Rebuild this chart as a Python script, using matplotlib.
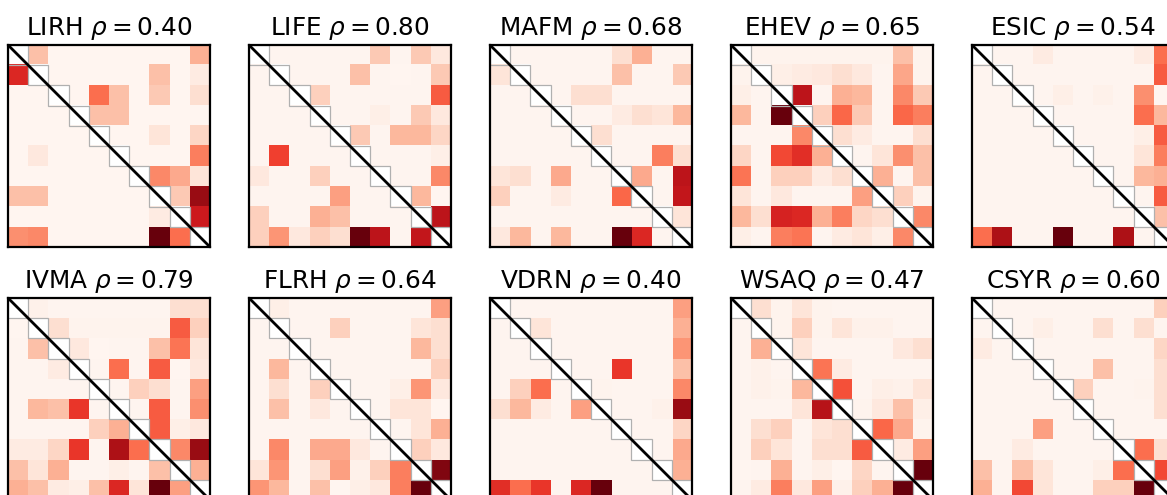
import numpy as np
from matplotlib import pyplot as plt
from matplotlib.patches import Rectangle

n = np.nan

# panel names and correlation values
names = ['LIRH', 'LIFE', 'MAFM', 'EHEV', 'ESIC',
         'IVMA', 'FLRH', 'VDRN', 'WSAQ', 'CSYR']
rhos = [0.40, 0.80, 0.68, 0.65, 0.54, 0.79, 0.64, 0.40, 0.47, 0.60]

# matrices (row = y, col = x), diagonal left empty
lirh = [
    [n, .25, .02, .02, .02, .02, .02, .02, .02, .30],
    [.70, n, .02, .02, .02, .02, .02, .25, .02, .08],
    [.02, .02, n, .02, .50, .25, .02, .22, .02, .15],
    [.02, .02, .02, n, .25, .25, .02, .02, .02, .02],
    [.02, .02, .02, .02, n, .02, .02, .12, .02, .18],
    [.02, .10, .02, .02, .02, n, .02, .02, .02, .45],
    [.02, .02, .02, .02, .02, .02, n, .42, .32, .12],
    [.25, .25, .02, .02, .02, .02, .02, n, .22, .90],
    [.02, .02, .02, .02, .02, .02, .02, .08, n, .75],
    [.40, .42, .02, .02, .02, .02, .02, 1.0, .50, n],
]
life = [
    [n, .03, .03, .03, .03, .03, .22, .03, .22, .10],
    [.03, n, .03, .03, .03, .25, .03, .02, .03, .22],
    [.03, .03, n, .20, .03, .03, .03, .03, .03, .55],
    [.03, .03, .03, n, .03, .03, .06, .03, .22, .10],
    [.03, .03, .03, .03, n, .22, .03, .28, .28, .18],
    [.03, .62, .03, .03, .03, n, .03, .03, .03, .06],
    [.10, .03, .03, .20, .03, .03, n, .03, .03, .42],
    [.03, .03, .03, .03, .35, .03, .03, n, .28, .02],
    [.20, .03, .03, .30, .25, .03, .03, .03, n, .80],
    [.20, .38, .10, .20, .15, 1.0, .80, .03, .78, n],
]
mafm = [
    [n, .03, .03, .03, .03, .03, .15, .30, .03, .03],
    [.12, n, .03, .03, .03, .03, .25, .03, .03, .22],
    [.03, .03, n, .03, .15, .15, .03, .03, .03, .03],
    [.03, .03, .03, n, .03, .03, .08, .15, .12, .28],
    [.03, .03, .03, .03, n, .15, .03, .03, .03, .03],
    [.03, .03, .03, .03, .03, n, .03, .03, .45, .15],
    [.12, .15, .03, .32, .03, .03, n, .32, .03, .80],
    [.20, .03, .03, .08, .03, .03, .52, n, .03, .78],
    [.03, .03, .03, .03, .03, .03, .03, .03, n, .12],
    [.10, .28, .03, .28, .03, .03, 1.0, .70, .03, n],
]
ehev = [
    [n, .04, .04, .04, .04, .04, .04, .04, .25, .04],
    [.04, n, .06, .08, .10, .15, .10, .03, .33, .04],
    [.06, .03, n, .80, .03, .30, .28, .03, .42, .22],
    [.28, .03, 1.0, n, .20, .52, .22, .03, .52, .45],
    [.03, .03, .03, .42, n, .15, .08, .03, .03, .15],
    [.18, .03, .60, .68, .30, n, .03, .12, .40, .25],
    [.48, .03, .20, .20, .08, .15, n, .30, .03, .25],
    [.12, .03, .10, .03, .03, .03, .35, n, .20, .04],
    [.28, .15, .72, .70, .30, .45, .18, .15, n, .42],
    [.06, .03, .45, .48, .03, .08, .12, .06, .42, n],
]
esic = [
    [n, .03, .03, .08, .03, .03, .03, .03, .08, .50],
    [.03, n, .03, .03, .03, .03, .03, .03, .03, .55],
    [.03, .03, n, .03, .06, .03, .05, .03, .40, .02],
    [.03, .03, .03, n, .03, .03, .03, .03, .50, .28],
    [.03, .03, .03, .03, n, .03, .03, .03, .06, .55],
    [.03, .03, .03, .03, .03, n, .03, .03, .12, .45],
    [.03, .03, .03, .03, .03, .03, n, .03, .28, .30],
    [.03, .03, .03, .03, .03, .03, .03, n, .03, .55],
    [.03, .03, .03, .03, .03, .03, .03, .03, n, .25],
    [.50, .85, .03, .03, 1.0, .03, .03, .85, .03, n],
]
ivma = [
    [n, .05, .03, .03, .03, .03, .03, .03, .15, .15],
    [.02, n, .15, .04, .04, .04, .04, .04, .55, .20],
    [.03, .25, n, .10, .02, .03, .03, .25, .48, .12],
    [.03, .03, .08, n, .03, .50, .03, .55, .02, .10],
    [.03, .03, .03, .03, n, .03, .20, .15, .03, .35],
    [.03, .28, .25, .65, .03, n, .03, .55, .03, .40],
    [.03, .03, .03, .03, .20, .30, n, .55, .06, .10],
    [.08, .08, .18, .65, .03, .85, .50, n, .42, .90],
    [.25, .12, .30, .03, .03, .06, .03, .25, n, .30],
    [.30, .25, .08, .06, .25, .70, .12, 1.0, .35, n],
]
flrh = [
    [n, .06, .03, .03, .03, .03, .03, .03, .03, .35],
    [.03, n, .03, .03, .20, .03, .03, .03, .12, .15],
    [.03, .03, n, .03, .03, .03, .03, .03, .28, .15],
    [.03, .28, .03, n, .03, .03, .03, .03, .03, .20],
    [.03, .15, .03, .20, n, .03, .03, .06, .38, .10],
    [.03, .25, .03, .10, .03, n, .03, .12, .12, .02],
    [.03, .03, .03, .03, .03, .03, n, .03, .12, .30],
    [.03, .42, .03, .32, .32, .10, .03, n, .20, .10],
    [.12, .38, .03, .15, .35, .05, .20, .45, n, .95],
    [.38, .28, .03, .25, .02, .06, .10, .45, 1.0, n],
]
vdrn = [
    [n, .03, .03, .03, .03, .03, .03, .03, .03, .35],
    [.03, n, .12, .03, .03, .03, .03, .03, .03, .30],
    [.03, .03, n, .03, .03, .03, .03, .03, .03, .38],
    [.03, .03, .03, n, .03, .03, .65, .03, .03, .25],
    [.03, .20, .50, .03, n, .04, .03, .03, .03, .42],
    [.15, .28, .08, .03, .35, n, .03, .03, .05, .90],
    [.03, .03, .03, .03, .03, .03, n, .03, .03, .18],
    [.03, .03, .03, .03, .03, .03, .03, n, .03, .32],
    [.03, .03, .03, .03, .03, .03, .03, .03, n, .30],
    [.68, .50, .65, .03, .70, 1.0, .03, .03, .03, n],
]
wsaq = [
    [n, .15, .04, .12, .04, .03, .03, .03, .03, .03],
    [.03, n, .04, .20, .04, .12, .05, .05, .03, .03],
    [.03, .30, n, .12, .03, .03, .03, .03, .10, .15],
    [.03, .05, .03, n, .48, .08, .03, .03, .03, .03],
    [.03, .05, .04, .28, n, .58, .03, .06, .05, .12],
    [.03, .03, .03, .12, .82, n, .04, .10, .25, .06],
    [.03, .15, .20, .03, .12, .15, n, .52, .32, .04],
    [.03, .20, .12, .03, .15, .15, .55, n, .08, .35],
    [.02, .03, .30, .03, .06, .02, .18, .03, n, 1.0],
    [.03, .08, .45, .10, .35, .05, .20, .30, 1.0, n],
]
csyr = [
    [n, .03, .03, .03, .03, .03, .03, .03, .03, .20],
    [.03, n, .03, .06, .03, .03, .15, .03, .15, .03],
    [.08, .03, n, .03, .03, .03, .03, .03, .03, .18],
    [.03, .03, .03, n, .03, .03, .25, .03, .03, .15],
    [.03, .03, .03, .03, n, .20, .03, .03, .04, .15],
    [.03, .03, .03, .03, .03, n, .03, .03, .03, .15],
    [.03, .03, .03, .35, .03, .03, n, .03, .03, .03],
    [.03, .03, .08, .03, .03, .03, .03, n, .50, .15],
    [.25, .03, .25, .12, .03, .03, .06, .50, n, .60],
    [.30, .03, .60, .12, .03, .03, .20, .20, 1.0, n],
]

matrices = [lirh, life, mafm, ehev, esic, ivma, flrh, vdrn, wsaq, csyr]

W, H = 1167, 495
fig = plt.figure(figsize=(W / 100, H / 100), dpi=100)

size = 202
for k, (name, rho, mat) in enumerate(zip(names, rhos, matrices)):
    row, col = divmod(k, 5)
    left = 8 + col * 241
    top = 45 + row * 253
    ax = fig.add_axes((left / W, (H - top - size) / H, size / W, size / H))
    data = np.array(mat, dtype=float)
    m = data.shape[0]
    ax.imshow(data, cmap='Reds', vmin=0.025, vmax=1, interpolation='nearest', aspect='auto')
    # outline the empty diagonal cells
    for i in range(m):
        ax.add_patch(Rectangle((i - 0.5, i - 0.5), 1, 1, fill=False,
                               edgecolor='#b0b0b0', linewidth=0.9))
    ax.plot([-0.5, m - 0.5], [-0.5, m - 0.5], color='black', linewidth=2)
    ax.set_xlim(-0.5, m - 0.5)
    ax.set_ylim(m - 0.5, -0.5)
    ax.set_xticks([])
    ax.set_yticks([])
    for s in ax.spines.values():
        s.set_linewidth(1.6)
    ax.set_title(name + r' $\rho = %.2f$' % rho, fontsize=17.8, pad=7)

fig.savefig('out.png', dpi=100)
